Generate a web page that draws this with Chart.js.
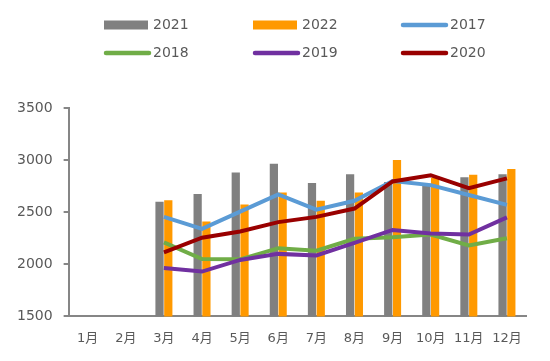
<!DOCTYPE html>
<html>
<head>
<meta charset="utf-8">
<script src="https://cdn.jsdelivr.net/npm/chart.js@4.4.0/dist/chart.umd.min.js"></script>
<style>
  html, body { margin: 0; padding: 0; background: #fff; }
  #wrap { width: 550px; height: 361px; position: relative; }
</style>
</head>
<body>
<div id="wrap"><canvas id="precioChart"></canvas></div>
<script>
// datos
const meses = ['1月', '2月', '3月', '4月', '5月', '6月', '7月', '8月', '9月', '10月', '11月', '12月'];
const serie2021 = [null, null, 2600, 2675, 2880, 2965, 2780, 2865, 2790, 2760, 2835, 2865];
const serie2022 = [null, null, 2615, 2410, 2575, 2690, 2610, 2690, 3000, 2830, 2860, 2915];
const serie2017 = [null, null, 2455, 2340, 2505, 2670, 2525, 2610, 2800, 2760, 2665, 2570];
const serie2018 = [null, null, 2210, 2050, 2048, 2155, 2130, 2245, 2260, 2285, 2180, 2250];
const serie2019 = [null, null, 1965, 1930, 2042, 2100, 2085, 2205, 2330, 2295, 2285, 2450];
const serie2020 = [null, null, 2115, 2255, 2315, 2405, 2455, 2535, 2795, 2855, 2730, 2825];
const ticksY = [1500, 2000, 2500, 3000, 3500];

const fuente = "'DejaVu Sans', 'Noto Sans CJK SC', sans-serif";
const gris = '#595959';

/* leyenda propia: 2 filas x 3 columnas */
const leyenda = {
    id: 'leyenda',
    afterDraw(chart) {
        const ctx = chart.ctx;
        const cols = [104, 253, 401];
        const filas = [25, 53];
        ctx.save();
        ctx.font = '14px ' + fuente;
        ctx.textBaseline = 'middle';
        ctx.fillStyle = gris;
        chart.data.datasets.forEach((ds, i) => {
            const x = cols[i % 3];
            const y = filas[Math.floor(i / 3)];
            if (ds.type === 'bar') {
                ctx.fillStyle = ds.backgroundColor;
                ctx.fillRect(x, y - 4.5, 44, 9);
            } else {
                ctx.strokeStyle = ds.borderColor;
                ctx.lineWidth = 4.5;
                ctx.lineCap = 'round';
                ctx.beginPath();
                ctx.moveTo(x + 2, y);
                ctx.lineTo(x + 45, y);
                ctx.stroke();
            }
            ctx.fillStyle = gris;
            ctx.fillText(ds.label, x + 49, y);
        });
        ctx.restore();
    }
};

function linea(label, data, color, orden) {
    return {
        type: 'line',
        label: label,
        data: data,
        borderColor: color,
        backgroundColor: color,
        borderWidth: 4,
        pointRadius: 0,
        tension: 0,
        fill: false,
        order: orden
    };
}

var ctx = document.getElementById('precioChart').getContext('2d');
const grafico = new Chart(ctx, {
    type: 'bar',
    data: {
        labels: meses,
        datasets: [
            { type: 'bar', label: '2021', data: serie2021, backgroundColor: '#808080', order: 5,
              categoryPercentage: 0.46, barPercentage: 0.94 },
            { type: 'bar', label: '2022', data: serie2022, backgroundColor: '#FF9900', order: 6,
              categoryPercentage: 0.46, barPercentage: 0.94 },
            linea('2017', serie2017, '#5B9BD5', 4),
            linea('2018', serie2018, '#70AD47', 3),
            linea('2019', serie2019, '#7030A0', 2),
            linea('2020', serie2020, '#990000', 1)
        ]
    },
    options: {
        responsive: true,
        maintainAspectRatio: false,
        animation: false,
        layout: { padding: { top: 108, right: 24, bottom: 9, left: 6 } },
        plugins: {
            legend: { display: false },
            tooltip: { enabled: false }
        },
        scales: {
            x: {
                grid: { display: false },
                border: { display: true, color: '#868686', width: 2 },
                ticks: { color: gris, font: { family: fuente, size: 13 }, padding: 6 }
            },
            y: {
                min: 1500,
                max: 3500,
                afterBuildTicks: s => { s.ticks = ticksY.map(v => ({ value: v })); },
                grid: { drawOnChartArea: false, drawTicks: true, tickLength: 5, color: '#868686', lineWidth: 2 },
                border: { display: true, color: '#868686', width: 2 },
                ticks: { color: gris, font: { family: fuente, size: 14 }, padding: 11,
                         callback: v => String(v) }
            }
        }
    },
    plugins: [leyenda]
});
</script>
</body>
</html>
